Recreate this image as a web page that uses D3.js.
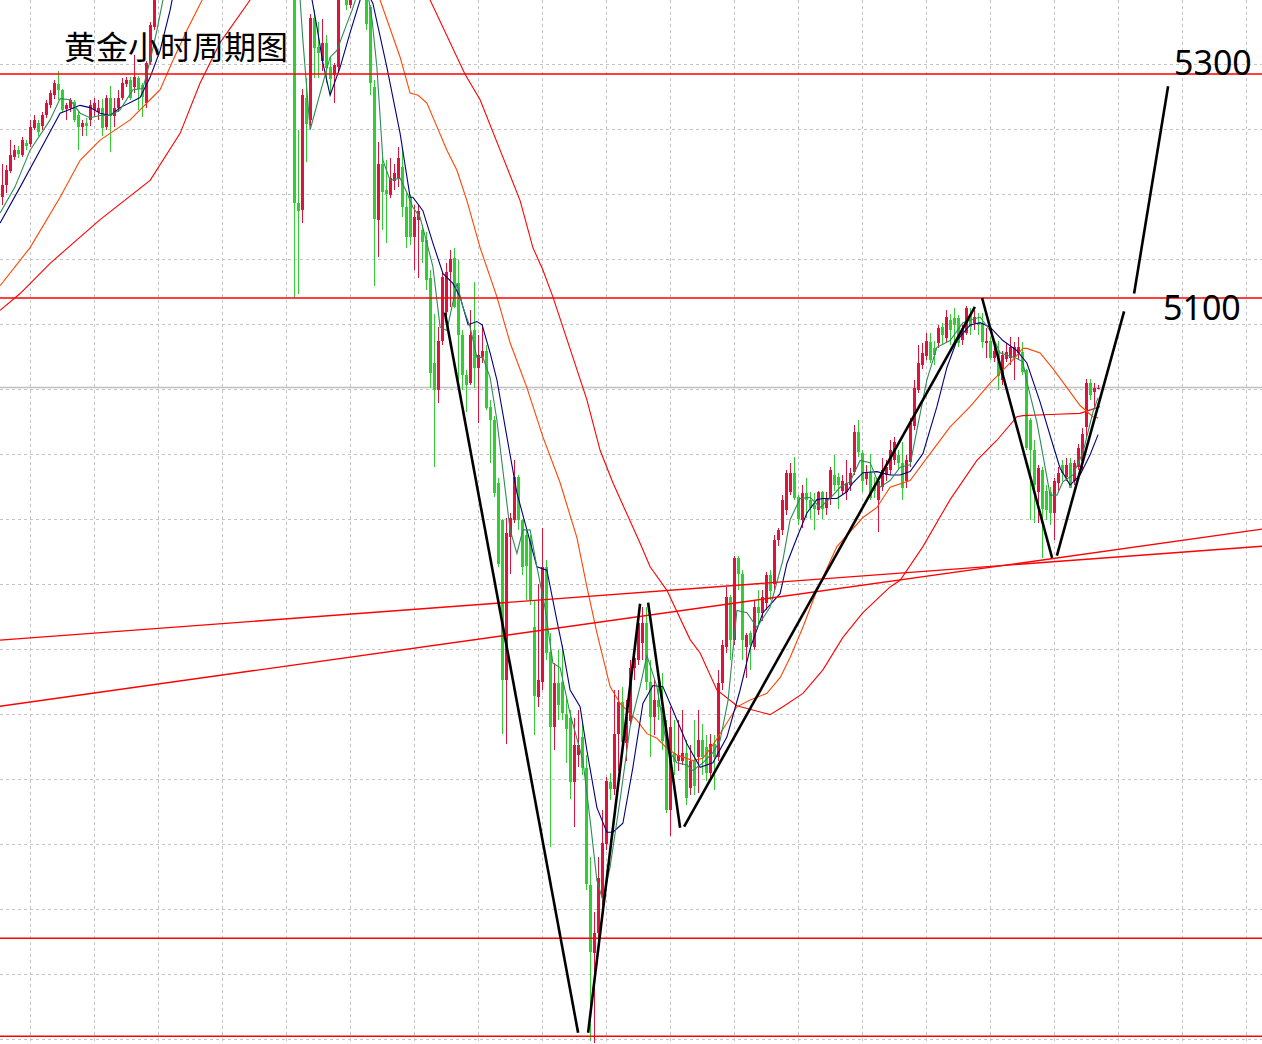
<!DOCTYPE html>
<html><head><meta charset="utf-8">
<script src="https://cdn.jsdelivr.net/npm/d3@7"></script>
<style>html,body{margin:0;padding:0;background:#fff;}svg{display:block;}</style>
</head><body><svg id="c" width="1262" height="1044"></svg>
<script>
// ---- data (prices) ----
const open=[5190,5201,5214,5226,5232,5228,5238,5238,5252,5256,
5253,5263,5272,5281,5291,5286,5268,5270,5275,5263,
5252,5256,5259,5268,5266,5270,5253,5279,5263,5270,
5279,5291,5295,5288,5296,5290,5274,5311,5342,5370,
5393,5400,5412,5425,5438,5450,5446,5462,5480,5495,
5488,5505,5520,5530,5515,5528,5540,5550,5535,5545,
5560,5552,5540,5548,5530,5515,5525,5505,5490,5470,
5480,5455,5440,
5420,5185,5178,5279,5259,5350,5324,
5312,5328,5306,5299,5306,5375,5384,5362,5379,5402,
5393,5375,5360,5288,5170,5220,5196,5192,5205,5207,
5217,5181,5190,5154,5170,5161,5152,5118,5042,5018,
5062,5087,5123,5136,5113,5067,5031,5024,5071,5037,
5048,5053,5003,4991,4935,4902,4759,4887,4902,4940,
4902,4888,4884,4806,4744,4757,4860,4784,4717,4756,
4757,4729,4725,4668,4692,4708,4680,4576,4515,4533,
4565,4613,4668,4662,4710,4739,4703,4723,4770,4777,
4792,4810,4757,4726,4741,4735,4711,4643,4694,4687,
4687,4694,4663,4687,4690,4705,4699,4676,4702,4690,
4756,4788,4833,4795,4868,4854,4788,4801,4788,4824,
4819,4828,4853,4845,4884,4893,4911,4927,4944,4922,
4902,4926,4920,4915,4911,4927,4912,4920,4942,4940,
4928,4927,4933,4944,4980,4962,4939,4944,4931,4920,
4931,4942,4946,4955,4960,4953,4936,4953,4986,5018,
5040,5049,5061,5055,5060,5074,5064,5080,5082,5082,
5062,5069,5085,5078,5078,5078,5060,5062,5047,5052,
5027,5046,5046,5047,5051,5052,5036,4991,4964,4927,
4946,4928,4927,4908,4935,4951,4940,4953,4937,4949,
4955,4985,5024,5016,5020];
const close=[5201,5214,5228,5232,5228,5241,5235,5253,5259,5248,
5263,5274,5283,5292,5286,5268,5272,5277,5259,5252,
5256,5253,5272,5274,5270,5252,5279,5263,5270,5279,
5292,5295,5279,5297,5286,5279,5310,5344,5370,5393,
5400,5412,5425,5438,5450,5446,5462,5480,5495,5488,
5505,5520,5530,5515,5528,5540,5550,5535,5545,5560,
5552,5540,5548,5530,5515,5525,5505,5490,5470,5480,
5455,5440,5420,
5185,5178,5281,5256,5350,5323,5319,
5328,5306,5295,5308,5375,5388,5362,5379,5402,5393,
5375,5345,5292,5170,5220,5195,5192,5207,5212,5225,
5181,5154,5154,5172,5178,5150,5116,5033,5018,5062,
5119,5123,5135,5092,5067,5031,5022,5067,5037,5049,
5053,5002,4991,4926,4863,4759,4890,4904,4940,4902,
4860,4860,4830,4744,4759,4860,4783,4717,4756,4736,
4729,4716,4668,4701,4701,4680,4576,4516,4533,4582,
4613,4669,4662,4711,4739,4703,4726,4770,4779,4810,
4810,4757,4726,4741,4735,4705,4643,4717,4686,4692,
4694,4654,4687,4665,4705,4690,4676,4702,4690,4756,
4790,4833,4795,4868,4854,4795,4799,4790,4824,4819,
4833,4853,4839,4884,4893,4920,4944,4944,4922,4902,
4926,4920,4913,4911,4927,4912,4921,4946,4933,4933,
4937,4935,4944,4980,4962,4937,4944,4922,4927,4937,
4946,4949,4964,4971,4953,4931,4955,4988,5020,5042,
5051,5062,5045,5049,5073,5067,5083,5071,5076,5060,
5073,5091,5074,5083,5076,5061,5062,5047,5053,5031,
5049,5052,5056,5056,5056,5034,4966,4964,4933,4948,
4911,4911,4908,4937,4944,4944,4951,4931,4953,4966,
4979,5024,5013,5020,5020];
const high=[5220,5219,5241,5237,5236,5244,5241,5259,5263,5259,
5266,5277,5286,5295,5303,5287,5274,5279,5277,5266,
5259,5261,5277,5279,5277,5278,5281,5289,5279,5286,
5296,5297,5297,5317,5298,5292,5312,5346,5375,5402,
5406,5418,5431,5444,5456,5456,5468,5486,5501,5501,
5511,5526,5536,5536,5534,5546,5556,5556,5551,5566,
5566,5558,5554,5554,5536,5531,5531,5511,5496,5486,
5486,5461,5446,
5425,5250,5287,5296,5354,5357,5346,
5349,5335,5315,5310,5379,5393,5388,5384,5406,5411,
5397,5379,5362,5295,5239,5226,5223,5225,5220,5235,
5234,5194,5192,5183,5183,5165,5159,5125,5086,5074,
5122,5131,5143,5145,5134,5071,5036,5089,5114,5067,
5077,5058,5009,4995,4939,4903,4904,4908,4955,4942,
4903,4893,4888,4830,4845,4895,4866,4801,4774,4786,
4790,4744,4732,4725,4732,4720,4692,4601,4552,4601,
4643,4672,4676,4750,4750,4753,4741,4777,4786,4812,
4824,4824,4777,4759,4768,4765,4723,4735,4723,4723,
4732,4705,4701,4723,4732,4720,4710,4711,4710,4768,
4795,4842,4835,4870,4870,4857,4801,4803,4830,4839,
4839,4855,4857,4888,4895,4924,4946,4953,4958,4924,
4933,4939,4927,4926,4928,4928,4927,4949,4960,4944,
4942,4955,4948,4987,4991,4964,4951,4961,4940,4940,
4957,4955,4973,4976,4964,4971,4960,4993,5027,5058,
5060,5069,5069,5062,5076,5078,5089,5086,5091,5085,
5076,5093,5091,5089,5087,5087,5073,5065,5062,5062,
5053,5060,5065,5061,5065,5061,5037,4993,4973,4951,
4949,4933,4931,4939,4949,4955,4957,4957,4955,4970,
4984,5028,5028,5024,5022];
const low=[5183,5194,5212,5223,5225,5226,5232,5235,5250,5245,
5250,5261,5270,5278,5277,5266,5259,5266,5257,5232,
5245,5245,5254,5262,5259,5245,5250,5230,5253,5266,
5277,5288,5277,5283,5268,5262,5270,5308,5339,5368,
5387,5394,5406,5419,5432,5440,5440,5456,5474,5482,
5482,5499,5514,5509,5509,5522,5534,5529,5529,5539,
5546,5534,5534,5524,5509,5509,5499,5484,5464,5464,
5449,5434,5414,
5100,5104,5167,5221,5254,5296,5296,
5303,5292,5283,5274,5303,5370,5357,5359,5377,5388,
5370,5339,5281,5111,5137,5161,5149,5189,5196,5199,
5172,5145,5147,5125,5118,5131,5107,5020,4949,5006,
5058,5080,5092,5091,5027,5018,4998,5022,5020,4988,
5042,5000,4953,4922,4860,4711,4702,4854,4899,4893,
4853,4830,4826,4710,4735,4750,4777,4610,4696,4723,
4723,4685,4653,4628,4681,4674,4571,4437,4435,4527,
4558,4607,4652,4656,4678,4699,4687,4719,4759,4772,
4777,4750,4690,4710,4723,4696,4640,4620,4674,4678,
4683,4647,4656,4656,4658,4674,4669,4669,4661,4687,
4750,4783,4777,4790,4839,4777,4761,4768,4786,4808,
4812,4821,4830,4839,4879,4888,4906,4924,4920,4897,
4895,4904,4903,4893,4906,4903,4906,4915,4928,4912,
4924,4920,4928,4942,4958,4927,4933,4920,4921,4891,
4928,4937,4942,4951,4946,4920,4930,4949,4982,5015,
5037,5045,5042,5040,5055,5058,5061,5058,5062,5056,
5058,5067,5067,5071,5067,5055,5046,5045,5043,5018,
5022,5043,5040,5027,5045,5031,4964,4902,4899,4899,
4868,4902,4897,4884,4928,4937,4937,4931,4933,4946,
4946,4975,5009,5002,5019];

// moving averages, read as [bar index, price]
const maFast=[[-0.6,5176],[3.1,5199],[6.9,5232],[11.9,5259],[14.4,5278],[16.9,5277],[19.4,5265],[21.9,5261],[24.4,5263],[26.9,5263],[29.4,5268],[32.6,5286],[35.1,5287],[36.9,5312],[38.6,5339],[40.1,5366],[42.4,5402],[73.4,5402],[74.4,5366],[75.1,5330],[76.9,5250],[79.4,5283],[81.9,5315],[83.6,5321],[86.1,5345],[87.4,5357],[89.4,5379],[91.4,5370],[92.4,5348],[93.6,5306],[95.1,5223],[96.9,5205],[99.4,5207],[101.1,5194],[102.6,5181],[104.4,5172],[106.1,5149],[107.6,5128],[109.4,5074],[111.1,5071],[113.6,5113],[115.1,5092],[116.9,5074],[118.6,5047],[120.1,5047],[121.9,5029],[123.6,4991],[125.1,4946],[126.9,4893],[128.6,4872],[130.1,4893],[131.9,4893],[133.6,4860],[135.6,4824],[137.6,4774],[139.4,4770],[141.9,4729],[145.1,4687],[146.9,4634],[148.6,4580],[150.1,4562],[151.9,4592],[154.4,4652],[156.9,4717],[159.4,4753],[161.1,4781],[163.6,4753],[166.1,4699],[168.6,4685],[171.1,4683],[172.6,4678],[175.1,4685],[177.6,4694],[179.4,4705],[181.4,4741],[183.6,4821],[186.1,4819],[188.6,4806],[191.9,4824],[195.1,4866],[196.9,4902],[199.4,4921],[201.9,4922],[204.4,4913],[206.9,4921],[209.4,4931],[211.9,4936],[214.4,4955],[216.9,4953],[219.4,4931],[221.9,4937],[224.4,4949],[226.9,4951],[228.6,4982],[231.1,5027],[233.6,5056],[236.9,5062],[240.1,5078],[244.4,5083],[246.9,5071],[249.4,5051],[253.6,5046],[255.1,5043],[256.1,5025],[258.6,4989],[260.1,4960],[261.9,4924],[263.6,4924],[265.1,4936],[267.6,4942],[270.1,4962],[272.6,4998],[273.9,5011]];
const maMid=[[-0.6,5167],[4.4,5199],[9.4,5232],[14.4,5265],[19.4,5272],[21.9,5270],[24.4,5265],[26.9,5263],[29.4,5270],[34.4,5279],[36.9,5297],[39.4,5321],[41.9,5357],[44.4,5402],[75.9,5402],[77.4,5366],[78.6,5342],[80.1,5310],[81.9,5281],[84.4,5306],[86.9,5337],[89.4,5366],[90.9,5375],[92.6,5363],[96.1,5306],[99.4,5247],[101.9,5190],[102.6,5190],[105.1,5178],[107.6,5149],[110.1,5122],[112.6,5113],[114.4,5101],[116.4,5076],[118.6,5079],[119.9,5076],[121.9,5051],[123.6,5027],[126.1,4976],[128.6,4926],[131.1,4893],[133.6,4860],[136.1,4857],[138.6,4812],[140.1,4786],[141.9,4750],[144.4,4735],[146.1,4696],[148.6,4645],[151.1,4623],[152.6,4623],[155.1,4631],[157.6,4681],[160.1,4738],[162.6,4754],[165.1,4753],[167.6,4732],[171.1,4702],[174.4,4681],[177.6,4685],[181.1,4708],[184.4,4750],[186.9,4787],[190.1,4819],[194.4,4836],[196.1,4863],[198.6,4886],[201.1,4908],[203.6,4920],[205.1,4921],[208.6,4921],[211.1,4927],[212.6,4935],[215.1,4944],[218.6,4945],[221.9,4942],[224.4,4942],[226.9,4945],[230.1,4961],[233.6,5003],[236.1,5038],[238.6,5062],[241.9,5076],[244.4,5078],[246.9,5074],[250.1,5062],[253.6,5053],[256.1,5042],[259.4,5007],[262.6,4969],[264.4,4948],[266.9,4933],[269.4,4942],[271.9,4960],[273.9,4978]];
const maSlow=[[-0.6,5111],[6.9,5145],[14.4,5190],[19.4,5223],[24.4,5241],[31.9,5259],[36.9,5277],[39.4,5286],[42.6,5312],[46.1,5339],[49.9,5366],[54.4,5406],[89.4,5406],[94.4,5366],[99.4,5315],[101.9,5283],[103.9,5281],[106.1,5274],[108.6,5253],[111.1,5232],[113.6,5214],[116.1,5187],[119.4,5145],[123.6,5101],[126.9,5060],[131.1,5020],[135.1,4976],[139.4,4935],[143.6,4886],[146.1,4842],[148.6,4801],[151.9,4753],[154.4,4738],[158.6,4723],[161.1,4711],[163.6,4707],[166.1,4698],[168.6,4692],[172.6,4687],[175.1,4689],[177.6,4701],[179.4,4711],[183.6,4735],[186.9,4741],[191.1,4747],[194.4,4761],[196.9,4779],[200.1,4806],[203.6,4839],[208.6,4878],[215.1,4904],[218.6,4913],[221.9,4931],[226.9,4937],[231.9,4961],[236.9,4985],[241.9,5003],[246.9,5024],[251.9,5042],[255.1,5055],[256.1,5055],[259.4,5051],[262.6,5037],[266.1,5020],[269.4,5004],[272.6,4994],[273.9,4993]];
const maLong=[[-0.6,5089],[4.4,5104],[11.9,5131],[24.4,5170],[36.9,5205],[44.4,5247],[49.4,5292],[54.4,5328],[61.9,5366],[66.9,5402],[101.9,5402],[106.9,5366],[115.6,5300],[119.4,5277],[124.4,5232],[129.4,5187],[132.6,5145],[135.1,5125],[137.6,5101],[142.6,5047],[146.1,5009],[149.4,4964],[152.6,4935],[159.4,4881],[161.9,4860],[166.1,4839],[171.9,4795],[174.4,4783],[178.6,4750],[183.6,4736],[191.9,4728],[195.1,4735],[200.1,4747],[205.1,4768],[210.1,4797],[215.1,4819],[221.9,4842],[224.4,4848],[230.1,4878],[236.9,4920],[243.6,4955],[248.6,4973],[253.6,4994],[255.1,4995],[261.9,4996],[269.4,4997],[274.4,5003]];

const levelLabels=["5300","5100"];
const levelPrices=[5300,5100,4528.4,4440.9];
const bidPrice=5020;
const redTrends=[[[-0.625,4794.5],[314.875,4878.4]],[[-0.625,4735.5],[314.875,4893.6]]];
const blackLegs=[[[110.6,5087],[143.9,4444]],[[146.4,4444],[159.4,4827]],[[161.4,4828],[169.4,4627]],[[170.4,4628],[243.1,5092]],[[244.9,5100],[262.4,4868]],[[263.6,4870],[280.4,5088]],[[282.9,5104],[291.4,5289]]];
const title="黄金小时周期图";

// ---- drawing ----
const W=1262,H=1044;
const svg=d3.select("#c");
const x=d3.scaleLinear().domain([-0.625,314.875]).range([0,W]);
const y=d3.scaleLinear().domain([5300,5100]).range([74,298]);

// grid
const gridStep=(y.invert(0)-y.invert(65));
const gy=d3.range(17).map(k=>y.invert(-1)-k*gridStep);
const gx=d3.range(20).map(k=>6.875+16*k);
const g=svg.append("g").attr("stroke","#c4c4c4").attr("stroke-dasharray","3,3").attr("shape-rendering","crispEdges");
g.selectAll(".h").data(gy).join("line").attr("x1",0).attr("x2",W).attr("y1",d=>Math.round(y(d))+0.5).attr("y2",d=>Math.round(y(d))+0.5);
g.selectAll(".v").data(gx).join("line").attr("y1",0).attr("y2",H).attr("x1",d=>Math.round(x(d))+0.5).attr("x2",d=>Math.round(x(d))+0.5);

// bid line
svg.append("line").attr("x1",0).attr("x2",W).attr("y1",y(bidPrice)).attr("y2",y(bidPrice)).attr("stroke","#c0c0c0").attr("stroke-width",1.5);

// candles
const idx=d3.range(open.length);
const up="#dc143c",dn="#32cd32";
const cg=svg.append("g").attr("shape-rendering","crispEdges");
cg.selectAll(".w").data(idx).join("line")
 .attr("x1",i=>x(i)).attr("x2",i=>x(i))
 .attr("y1",i=>Math.round(y(high[i]))).attr("y2",i=>Math.round(y(low[i])))
 .attr("stroke",i=>close[i]>=open[i]?up:dn).attr("stroke-width",1);
cg.selectAll(".b").data(idx).join("rect")
 .attr("x",i=>x(i)-1.5).attr("width",3)
 .attr("y",i=>Math.round(Math.min(y(open[i]),y(close[i]))))
 .attr("height",i=>Math.max(1,Math.round(Math.abs(y(open[i])-y(close[i])))))
 .attr("fill",i=>close[i]>=open[i]?up:dn);

// moving averages
const line=d3.line().x(d=>x(d[0])).y(d=>y(d[1]));
[[maLong,"#ff0000"],[maSlow,"#ff4500"],[maMid,"#000080"],[maFast,"#2e8b57"]].forEach(([d,c])=>{
  svg.append("path").attr("d",line(d)).attr("fill","none").attr("stroke",c).attr("stroke-width",1.1);
});

// red levels and trend lines
svg.selectAll(".lv").data(levelPrices).join("line").attr("x1",0).attr("x2",W)
 .attr("y1",d=>y(d)).attr("y2",d=>y(d)).attr("stroke","#ff0000").attr("stroke-width",1.4);
svg.selectAll(".rt").data(redTrends).join("line")
 .attr("x1",d=>x(d[0][0])).attr("y1",d=>y(d[0][1])).attr("x2",d=>x(d[1][0])).attr("y2",d=>y(d[1][1]))
 .attr("stroke","#ff0000").attr("stroke-width",1.4);

// black legs
svg.selectAll(".bl").data(blackLegs).join("line")
 .attr("x1",d=>x(d[0][0])).attr("y1",d=>y(d[0][1])).attr("x2",d=>x(d[1][0])).attr("y2",d=>y(d[1][1]))
 .attr("stroke","#000").attr("stroke-width",2.6);

// texts
svg.append("text").attr("x",64).attr("y",59).attr("font-family","'Noto Sans CJK SC','Noto Sans',sans-serif")
 .attr("font-size",32).attr("fill","#000").text(title);
svg.append("text").attr("x",1174).attr("y",y(5300)+1).attr("font-family","'Noto Sans','Open Sans',sans-serif")
 .attr("font-size",34).attr("fill","#000").text(levelLabels[0]);
svg.append("text").attr("x",1163).attr("y",y(5100)+22).attr("font-family","'Noto Sans','Open Sans',sans-serif")
 .attr("font-size",34).attr("fill","#000").text(levelLabels[1]);
</script></body></html>
